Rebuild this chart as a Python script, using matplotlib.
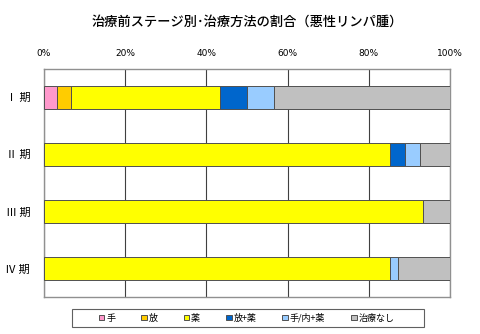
import matplotlib
matplotlib.use("Agg")
import matplotlib.pyplot as plt
from matplotlib.patches import Rectangle
import numpy as np

plt.rcParams['font.family'] = ['Noto Sans CJK JP', 'DejaVu Sans']

# 治療前ステージ別の割合 (%)
stages = ["Ⅰ 期", "Ⅱ 期", "Ⅲ 期", "Ⅳ 期"]
methods = ["手", "放", "薬", "放+薬", "手/内+薬", "治療なし"]
shu = [3.3, 0, 0, 0]
hou = [3.3, 0, 0, 0]
yaku = [36.7, 85.2, 93.3, 85.1]
hou_yaku = [6.7, 3.7, 0, 0]
shu_nai_yaku = [6.7, 3.7, 0, 2.1]
nashi = [43.3, 7.4, 6.7, 12.8]
colors = ["#FF99CC", "#FFCC00", "#FFFF00", "#0066CC", "#99CCFF", "#C0C0C0"]

series = [shu, hou, yaku, hou_yaku, shu_nai_yaku, nashi]

fig = plt.figure(figsize=(4.8, 3.34), dpi=100)
ax = fig.add_axes([0.0917, 0.111, 0.846, 0.683])

y = np.arange(len(stages))
left = np.zeros(len(stages))
for name, vals, c in zip(methods, series, colors):
    vals = np.array(vals)
    ax.barh(y, vals, left=left, height=0.4, color=c, edgecolor="#505050",
            linewidth=0.7, label=name, zorder=3)
    left += vals

ax.set_xlim(0, 100)
ax.set_ylim(3.5, -0.5)
ax.set_xticks([0, 20, 40, 60, 80, 100])
ax.set_xticklabels(["0%", "20%", "40%", "60%", "80%", "100%"], fontsize=6.5,
                   family="DejaVu Sans")
ax.xaxis.tick_top()
ax.tick_params(axis="x", length=0, pad=8)
ax.set_yticks(y)
ax.set_yticklabels(stages, fontsize=8)
ax.tick_params(axis="y", length=0, pad=10)
ax.grid(axis="x", color="#404040", linewidth=0.8, zorder=0)
for s in ax.spines.values():
    s.set_color("#909090")
    s.set_linewidth(1.0)

fig.text(0.515, 0.935, "治療前ステージ別･治療方法の割合（悪性リンパ腫）",
         ha="center", va="center", fontsize=9.5, weight="medium")

# 凡例（枠は別に描く）
leg = fig.legend(loc="center", bbox_to_anchor=(0.514, 0.048), ncol=6,
                 fontsize=6.5, frameon=False,
                 handlelength=0.6, handleheight=0.6, handletextpad=0.2,
                 columnspacing=2.9)
fig.patches.append(Rectangle((0.15, 0.021), 0.733, 0.054, transform=fig.transFigure,
                             fill=False, edgecolor="#606060", linewidth=0.8))

plt.savefig("out.png", dpi=100)
